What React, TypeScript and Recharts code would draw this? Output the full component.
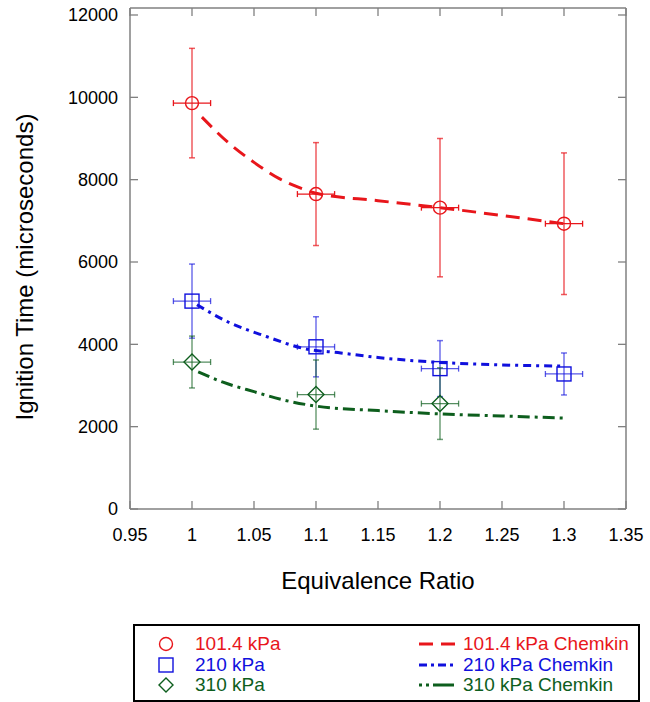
import React from "react";
import {
  ComposedChart,
  Line,
  Scatter,
  ErrorBar,
  XAxis,
  YAxis,
  Label,
} from "recharts";

// measured ignition times (microseconds) with error bars
const phiMeasured = [1.0, 1.1, 1.2, 1.3];
const phiErr = 0.015;

const t101 = [9860, 7650, 7320, 6930];
const t101Err = [1330, 1250, 1680, 1720];

const t210 = [5050, 3940, 3410, 3280];
const t210Err = [900, 730, 680, 510];

const phi310 = [1.0, 1.1, 1.2];
const t310 = [3570, 2780, 2560];
const t310Err = [630, 840, 870];

// Chemkin model curves
const phiChem101 = [1.008, 1.03, 1.05, 1.07, 1.09, 1.1, 1.15, 1.2, 1.25, 1.3];
const tChem101 = [9520, 8880, 8420, 8030, 7770, 7670, 7490, 7320, 7130, 6930];

const phiChem210 = [1.004, 1.03, 1.06, 1.09, 1.12, 1.15, 1.2, 1.25, 1.3];
const tChem210 = [4960, 4530, 4190, 3900, 3790, 3680, 3560, 3500, 3470];

const phiChem310 = [1.005, 1.025, 1.05, 1.075, 1.1, 1.15, 1.2, 1.25, 1.3];
const tChem310 = [3330, 3080, 2850, 2640, 2500, 2390, 2310, 2260, 2210];

const xTicks = [0.95, 1, 1.05, 1.1, 1.15, 1.2, 1.25, 1.3, 1.35];
const yTicks = [0, 2000, 4000, 6000, 8000, 10000, 12000];

const RED = "#e8161b";
const BLUE = "#1010dd";
const GREEN = "#0d5e1d";
const AXIS = "#808080";
const FONT = "'Liberation Sans', Arial, sans-serif";

const measured = (phis: number[], ts: number[], errs: number[]) =>
  phis.map((p, i) => ({ phi: p, t: ts[i], tErr: errs[i], phiErr }));
const curve = (phis: number[], ts: number[]) =>
  phis.map((p, i) => ({ phi: p, t: ts[i] }));

const data101 = measured(phiMeasured, t101, t101Err);
const data210 = measured(phiMeasured, t210, t210Err);
const data310 = measured(phi310, t310, t310Err);

const emptyTick = () => <g />;

const circleShape = (props: any) => (
  <circle cx={props.cx} cy={props.cy} r={6.5} fill="none" stroke={RED} strokeWidth={1.4} />
);
const squareShape = (props: any) => (
  <rect x={props.cx - 7} y={props.cy - 7} width={14} height={14} fill="none" stroke={BLUE} strokeWidth={1.4} />
);
const diamondShape = (props: any) => (
  <path
    d={`M${props.cx},${props.cy - 8}L${props.cx + 8},${props.cy}L${props.cx},${props.cy + 8}L${props.cx - 8},${props.cy}Z`}
    fill="none"
    stroke={GREEN}
    strokeWidth={1.4}
  />
);

function LegendBox() {
  const rows = [
    { label: "101.4 kPa", color: RED, marker: "circle", dash: "14 8" },
    { label: "210 kPa", color: BLUE, marker: "square", dash: "8 4 3 4" },
    { label: "310 kPa", color: GREEN, marker: "diamond", dash: "3 4 3 4 18 0" },
  ];
  return (
    <div
      style={{
        position: "absolute",
        left: 133,
        top: 624,
        width: 503,
        height: 74,
        border: "2px solid #000",
        fontFamily: FONT,
        fontSize: 19,
      }}
    >
      {rows.map((r, i) => {
        const cy = 18 + i * 20.5;
        return (
          <React.Fragment key={r.label}>
            <svg style={{ position: "absolute", left: 20, top: cy - 10 }} width={22} height={20}>
              {r.marker === "circle" && <circle cx={11} cy={10} r={6.5} fill="none" stroke={r.color} strokeWidth={1.4} />}
              {r.marker === "square" && <rect x={4} y={3} width={14} height={14} fill="none" stroke={r.color} strokeWidth={1.4} />}
              {r.marker === "diamond" && <path d="M11,3L18,10L11,17L4,10Z" fill="none" stroke={r.color} strokeWidth={1.4} />}
            </svg>
            <div style={{ position: "absolute", left: 60, top: cy - 11, color: r.color, lineHeight: "22px" }}>
              {r.label}
            </div>
            <svg style={{ position: "absolute", left: 284, top: cy - 5 }} width={38} height={10}>
              <line x1={0} y1={5} x2={36} y2={5} stroke={r.color} strokeWidth={3} strokeDasharray={r.dash} />
            </svg>
            <div style={{ position: "absolute", left: 328, top: cy - 11, color: r.color, lineHeight: "22px" }}>
              {r.label} Chemkin
            </div>
          </React.Fragment>
        );
      })}
    </div>
  );
}

export default function App() {
  return (
    <div style={{ position: "absolute", left: 0, top: 0, width: 650, height: 702, background: "#fff" }}>
      <ComposedChart
        width={650}
        height={702}
        margin={{ top: 7, right: 23, left: 0, bottom: 103 }}
        style={{ fontFamily: FONT }}
      >
        <XAxis
          xAxisId="bottom"
          dataKey="phi"
          type="number"
          domain={[0.95, 1.35]}
          ticks={xTicks}
          allowDataOverflow
          height={90}
          tickSize={-8}
          tickMargin={27}
          tick={{ fill: "#000", fontSize: 18 }}
          stroke={AXIS}
          axisLine={{ stroke: AXIS, strokeWidth: 1.5 }}
          tickLine={{ stroke: AXIS, strokeWidth: 1.3 }}
        >
          <Label
            content={(props: any) => {
              const vb = props.viewBox;
              return (
                <text x={vb.x + vb.width / 2} y={vb.y + 80} textAnchor="middle" fontSize={24} fill="#000" fontFamily={FONT}>
                  Equivalence Ratio
                </text>
              );
            }}
          />
        </XAxis>
        <XAxis
          xAxisId="top"
          dataKey="phi"
          type="number"
          orientation="top"
          domain={[0.95, 1.35]}
          ticks={xTicks}
          allowDataOverflow
          height={1}
          tickSize={-8}
          tick={emptyTick}
          stroke={AXIS}
          axisLine={{ stroke: AXIS, strokeWidth: 1.5 }}
          tickLine={{ stroke: AXIS, strokeWidth: 1.3 }}
        />
        <YAxis
          yAxisId="left"
          dataKey="t"
          type="number"
          domain={[0, 12170]}
          ticks={yTicks}
          allowDataOverflow
          width={130}
          tickSize={-8}
          tickMargin={20}
          tick={{ fill: "#000", fontSize: 18 }}
          axisLine={{ stroke: AXIS, strokeWidth: 1.5 }}
          tickLine={{ stroke: AXIS, strokeWidth: 1.3 }}
        >
          <Label
            content={() => {
              const cy = 267;
              return (
                <text
                  x={33}
                  y={cy}
                  transform={`rotate(-90, 33, ${cy})`}
                  textAnchor="middle"
                  fontSize={24}
                  fill="#000"
                  fontFamily={FONT}
                >
                  Ignition Time (microseconds)
                </text>
              );
            }}
          />
        </YAxis>
        <YAxis
          yAxisId="right"
          orientation="right"
          type="number"
          domain={[0, 12170]}
          ticks={yTicks}
          allowDataOverflow
          width={1}
          tickSize={-8}
          tick={emptyTick}
          stroke={AXIS}
          axisLine={{ stroke: AXIS, strokeWidth: 1.5 }}
          tickLine={{ stroke: AXIS, strokeWidth: 1.3 }}
        />

        <Line
          xAxisId="bottom"
          yAxisId="left"
          data={curve(phiChem101, tChem101)}
          dataKey="t"
          type="monotone"
          stroke={RED}
          strokeWidth={3}
          strokeDasharray="14 8"
          dot={false}
          activeDot={false}
          isAnimationActive={false}
        />
        <Line
          xAxisId="bottom"
          yAxisId="left"
          data={curve(phiChem210, tChem210)}
          dataKey="t"
          type="monotone"
          stroke={BLUE}
          strokeWidth={3}
          strokeDasharray="8 5 3 5"
          dot={false}
          activeDot={false}
          isAnimationActive={false}
        />
        <Line
          xAxisId="bottom"
          yAxisId="left"
          data={curve(phiChem310, tChem310)}
          dataKey="t"
          type="monotone"
          stroke={GREEN}
          strokeWidth={3}
          strokeDasharray="12 5 3 5"
          dot={false}
          activeDot={false}
          isAnimationActive={false}
        />

        <Scatter
          xAxisId="bottom"
          yAxisId="left"
          data={data101}
          dataKey="t"
          shape={circleShape}
          isAnimationActive={false}
        >
          <ErrorBar dataKey="tErr" direction="y" width={3} stroke={RED} strokeOpacity={0.7} strokeWidth={1.5} />
          <ErrorBar dataKey="phiErr" direction="x" width={3} stroke={RED} strokeWidth={1.3} />
        </Scatter>
        <Scatter
          xAxisId="bottom"
          yAxisId="left"
          data={data210}
          dataKey="t"
          shape={squareShape}
          isAnimationActive={false}
        >
          <ErrorBar dataKey="tErr" direction="y" width={3} stroke={BLUE} strokeOpacity={0.6} strokeWidth={1.5} />
          <ErrorBar dataKey="phiErr" direction="x" width={3} stroke={BLUE} strokeOpacity={0.7} strokeWidth={1.3} />
        </Scatter>
        <Scatter
          xAxisId="bottom"
          yAxisId="left"
          data={data310}
          dataKey="t"
          shape={diamondShape}
          isAnimationActive={false}
        >
          <ErrorBar dataKey="tErr" direction="y" width={3} stroke={GREEN} strokeOpacity={0.6} strokeWidth={1.5} />
          <ErrorBar dataKey="phiErr" direction="x" width={3} stroke={GREEN} strokeOpacity={0.7} strokeWidth={1.3} />
        </Scatter>
      </ComposedChart>
      <LegendBox />
    </div>
  );
}
